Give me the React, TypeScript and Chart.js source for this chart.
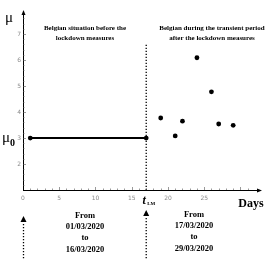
import React, { useEffect, useRef } from "react";
import { Chart, registerables } from "chart.js";
Chart.register(...registerables);

const lineDays = [1, 17];
const lineMu = [3, 3];
const lockdownDay = 17;
const dottedMu = [1, 6.65];
const afterDays = [19, 21, 22, 24, 26, 27, 29];
const afterMu = [3.77, 3.08, 3.65, 6.09, 4.78, 3.54, 3.49];
const xTicks = [0, 5, 10, 15, 20, 25];
const yTicks = [2, 3, 4, 5, 6, 7];
const headerLeft = ["Belgian situation before the", "lockdown measures"];
const headerRight = ["Belgian during the transient period", "after the lockdown measures"];
const fromLeft = ["From", "01/03/2020", "to", "16/03/2020"];
const fromRight = ["From", "17/03/2020", "to", "29/03/2020"];

const overlay = {
  id: "overlay",
  afterDraw(chart: any) {
    const ctx = chart.ctx as CanvasRenderingContext2D;
    const xs = chart.scales.x;
    const ys = chart.scales.y;
    const { left, right, top, bottom } = chart.chartArea;
    ctx.save();
    ctx.strokeStyle = "#000";
    ctx.fillStyle = "#000";
    ctx.lineWidth = 1;
    // axes
    ctx.beginPath();
    ctx.moveTo(left, bottom + 0.5);
    ctx.lineTo(right, bottom + 0.5);
    ctx.moveTo(left + 0.5, bottom);
    ctx.lineTo(left + 0.5, top);
    ctx.stroke();
    // arrow heads
    ctx.beginPath();
    ctx.moveTo(right + 2, bottom + 0.5);
    ctx.lineTo(right - 3, bottom - 1.5);
    ctx.lineTo(right - 3, bottom + 2.5);
    ctx.closePath();
    ctx.fill();
    ctx.beginPath();
    ctx.moveTo(left + 0.5, top - 2);
    ctx.lineTo(left - 1.5, top + 3);
    ctx.lineTo(left + 2.5, top + 3);
    ctx.closePath();
    ctx.fill();
    // minor ticks
    ctx.strokeStyle = "#555";
    ctx.lineWidth = 0.6;
    ctx.beginPath();
    for (let v = 1; v <= 31; v++) {
      const px = Math.round(xs.getPixelForValue(v)) + 0.5;
      const len = v % 5 === 0 ? 3 : 1.5;
      ctx.moveTo(px, bottom);
      ctx.lineTo(px, bottom - len);
    }
    for (let i = 1; i < 34; i++) {
      const v = 1 + i * 0.2;
      const py = Math.round(ys.getPixelForValue(v)) + 0.5;
      const len = i % 5 === 0 ? 3 : 1.5;
      ctx.moveTo(left, py);
      ctx.lineTo(left + len, py);
    }
    ctx.stroke();
    // tick labels
    ctx.fillStyle = "#8a8a8a";
    ctx.font = "6px 'DejaVu Sans'";
    ctx.textAlign = "center";
    ctx.textBaseline = "middle";
    xTicks.forEach((t) => ctx.fillText(String(t), xs.getPixelForValue(t), bottom + 8));
    ctx.textAlign = "right";
    yTicks.forEach((t) => ctx.fillText(String(t), left - 2, ys.getPixelForValue(t)));
    // mu labels
    ctx.fillStyle = "#000";
    ctx.textAlign = "left";
    ctx.textBaseline = "alphabetic";
    ctx.font = "15px 'Liberation Serif'";
    ctx.fillText("\u03bc", 5, 22);
    ctx.fillText("\u03bc", 2, ys.getPixelForValue(3) + 4);
    ctx.font = "bold 10px 'Liberation Serif'";
    ctx.fillText("0", 10, ys.getPixelForValue(3) + 8);
    // Days
    ctx.font = "bold 12px 'Liberation Serif'";
    ctx.textAlign = "center";
    ctx.fillText("Days", 251, bottom + 17);
    // t_LM
    const tx = xs.getPixelForValue(lockdownDay);
    ctx.font = "italic bold 12px 'Liberation Serif'";
    ctx.fillText("t", tx - 2, bottom + 14);
    ctx.font = "bold 5px 'Liberation Serif'";
    ctx.fillText("LM", tx + 5, bottom + 15);
    // headers
    ctx.font = "bold 7px 'Liberation Serif'";
    headerLeft.forEach((s, i) => ctx.fillText(s, 85, 30 + i * 10));
    headerRight.forEach((s, i) => ctx.fillText(s, 212, 30 + i * 10));
    ctx.font = "bold 8.5px 'Liberation Serif'";
    fromLeft.forEach((s, i) => ctx.fillText(s, 85, 218 + i * 11.2));
    fromRight.forEach((s, i) => ctx.fillText(s, 194, 217 + i * 11.2));
    // bottom dotted arrows
    const drawArrow = (x: number, triTop: number) => {
      ctx.fillStyle = "#000";
      ctx.beginPath();
      ctx.moveTo(x, triTop);
      ctx.lineTo(x - 3, triTop + 6);
      ctx.lineTo(x + 3, triTop + 6);
      ctx.closePath();
      ctx.fill();
      ctx.strokeStyle = "#000";
      ctx.lineWidth = 1.3;
      ctx.setLineDash([1.2, 1.8]);
      ctx.beginPath();
      ctx.moveTo(x, triTop + 8);
      ctx.lineTo(x, 259);
      ctx.stroke();
      ctx.setLineDash([]);
    };
    drawArrow(xs.getPixelForValue(0) + 0.5, 216);
    drawArrow(xs.getPixelForValue(lockdownDay), 210);
    ctx.restore();
  },
};

export default function App() {
  const ref = useRef<HTMLCanvasElement>(null);
  useEffect(() => {
    const chart = new Chart(ref.current as HTMLCanvasElement, {
      type: "scatter",
      data: {
        datasets: [
          {
            type: "line",
            data: lineDays.map((d, i) => ({ x: d, y: lineMu[i] })),
            borderColor: "#000",
            backgroundColor: "#000",
            borderWidth: 2,
            pointRadius: 2.4,
            pointBorderWidth: 0,
            pointBackgroundColor: "#000",
          },
          {
            type: "line",
            data: dottedMu.map((m) => ({ x: lockdownDay, y: m })),
            borderColor: "#000",
            borderWidth: 1.3,
            borderDash: [1.2, 1.8],
            pointRadius: 0,
          },
          {
            data: afterDays.map((d, i) => ({ x: d, y: afterMu[i] })),
            backgroundColor: "#000",
            borderColor: "#000",
            pointRadius: 2.4,
            pointBorderWidth: 0,
          },
        ],
      },
      options: {
        animation: false,
        responsive: false,
        layout: { padding: { left: 23, top: 12, right: 13, bottom: 82 } },
        plugins: { legend: { display: false }, tooltip: { enabled: false } },
        scales: {
          x: { type: "linear", min: 0, max: 32.7, display: false },
          y: { type: "linear", min: 1, max: 7.85, display: false },
        },
      },
      plugins: [overlay],
    });
    return () => chart.destroy();
  }, []);
  return (
    <div style={{ position: "fixed", left: 0, top: 0, width: 273, height: 272, background: "#fff" }}>
      <canvas ref={ref} width={273} height={272} />
    </div>
  );
}
